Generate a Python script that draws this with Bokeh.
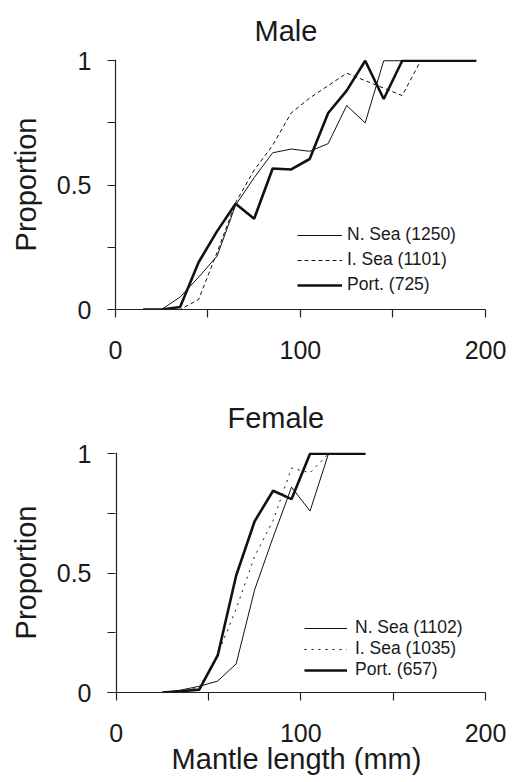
from bokeh.plotting import figure
from bokeh.layouts import column
from bokeh.models import FixedTicker, Legend, LegendItem
from bokeh.embed import file_html
from bokeh.resources import INLINE

# ---------------- data ----------------
male_len = [15, 25, 35, 45, 55, 65, 75, 85, 95, 105, 115, 125, 135, 145, 155, 165, 175, 185, 195]
male_nsea = [0, 0, 0.05, 0.13, 0.215, 0.42, 0.53, 0.63, 0.645, 0.636, 0.667, 0.82, 0.75, 1, 1, 1, 1, 1, 1]
male_isea = [0, 0, 0, 0.04, 0.23, 0.43, 0.56, 0.66, 0.79, 0.85, 0.90, 0.95, 0.92, 0.89, 0.86, 1, 1, 1, 1]
male_port = [0, 0, 0.01, 0.19, 0.315, 0.425, 0.365, 0.567, 0.563, 0.605, 0.79, 0.88, 1.0, 0.846, 1, 1, 1, 1, 1]
male_labels = ["N. Sea (1250)", "I. Sea (1101)", "Port. (725)"]

female_len = [15, 25, 35, 45, 55, 65, 75, 85, 95, 105, 115, 125, 135]
female_nsea = [float("nan"), 0, 0.01, 0.026, 0.048, 0.12, 0.43, 0.65, 0.86, 0.76, 1, 1, 1]
female_isea = [0, 0, 0.005, 0.02, 0.16, 0.35, 0.57, 0.72, 0.94, 0.92, 1, 1, 1]
female_port = [float("nan"), 0, 0.005, 0.012, 0.155, 0.49, 0.717, 0.845, 0.81, 1, 1, 1, 1]
female_labels = ["N. Sea (1102)", "I. Sea (1035)", "Port. (657)"]

x_major = [0, 100, 200]
x_minor = [50, 150]
x_tick_labels = ["0", "100", "200"]
y_major = [0, 0.5, 1]
y_minor = [0.25, 0.75]
y_tick_labels = ["0", "0.5", "1"]

FONT = "Liberation Sans"
TXT = "#1a1a1a"
LINE = "#111111"
AXIS = "#222222"


def make_panel(title, xs, series, labels, isea_dash, w, h, bl, br, bt, bb, x_start,
               title_offset, title_standoff, legend_loc, glyph_w, standoff, spacing,
               xlabel=None, xlabel_standoff=0):
    p = figure(width=w, height=h,
               x_range=(x_start, 200), y_range=(0, 1.005),
               min_border_left=bl, min_border_right=br, min_border_top=bt, min_border_bottom=bb,
               output_backend="svg", toolbar_location=None)
    p.outline_line_color = None
    p.ygrid.grid_line_color = None
    # vertical axis line at x = 0 (the y axis crosses the x axis at 0)
    p.xgrid.ticker = FixedTicker(ticks=[0])
    p.xgrid.grid_line_color = AXIS
    p.xgrid.grid_line_width = 1.2

    p.title.text = title
    p.title.align = "left"
    p.title.offset = title_offset
    p.title.standoff = title_standoff
    p.title.text_font = FONT
    p.title.text_font_size = "29px"
    p.title.text_font_style = "normal"
    p.title.text_color = TXT

    styles = [dict(line_width=1.0, line_dash="solid"),
              dict(line_width=1.0, line_dash=isea_dash),
              dict(line_width=2.6, line_dash="solid")]
    items = []
    for ys, lab, st in zip(series, labels, styles):
        r = p.line(xs, ys, line_color=LINE, **st)
        items.append(LegendItem(label=lab, renderers=[r]))

    leg = Legend(items=items, location=legend_loc)
    leg.background_fill_alpha = 0
    leg.border_line_color = None
    leg.padding = 0
    leg.margin = 0
    leg.spacing = spacing
    leg.glyph_width = glyph_w
    leg.glyph_height = 20
    leg.label_height = 20
    leg.label_standoff = standoff
    leg.label_text_font = FONT
    leg.label_text_font_size = "17.5px"
    leg.label_text_color = TXT
    p.add_layout(leg)

    p.xaxis.ticker = FixedTicker(ticks=x_major, minor_ticks=x_minor)
    p.xaxis.major_label_overrides = {v: s for v, s in zip(x_major, x_tick_labels)}
    p.yaxis.ticker = FixedTicker(ticks=y_major, minor_ticks=y_minor)
    p.yaxis.major_label_overrides = {v: s for v, s in zip(y_major, y_tick_labels)}
    p.yaxis.axis_label = "Proportion"
    if xlabel:
        p.xaxis.axis_label = xlabel
    for ax in (p.xaxis, p.yaxis):
        ax.axis_line_color = AXIS
        ax.axis_line_width = 1.2
        ax.major_tick_line_color = AXIS
        ax.minor_tick_line_color = AXIS
        ax.major_tick_line_width = 1.2
        ax.minor_tick_line_width = 1.2
        ax.major_label_text_font = FONT
        ax.major_label_text_font_size = "25px"
        ax.major_label_text_color = TXT
        ax.axis_label_text_font = FONT
        ax.axis_label_text_font_size = "29px"
        ax.axis_label_text_font_style = "normal"
        ax.axis_label_text_color = TXT
    # x axis: ticks hang below the line
    p.xaxis.major_tick_in = 0
    p.xaxis.major_tick_out = 8
    p.xaxis.minor_tick_in = 0
    p.xaxis.minor_tick_out = 8
    p.xaxis.major_label_standoff = 23
    p.xaxis.axis_label_standoff = xlabel_standoff
    # y axis sits at the frame edge; its ticks run from there to x = 0
    p.yaxis.axis_line_color = None
    p.yaxis.major_tick_in = 8
    p.yaxis.major_tick_out = 0
    p.yaxis.minor_tick_in = 8
    p.yaxis.minor_tick_out = 0
    p.yaxis.major_label_standoff = 16
    p.yaxis.axis_label_standoff = 12
    return p


p1 = make_panel("Male", male_len, [male_nsea, male_isea, male_port], male_labels, "4 3",
                517, 380, 107, 25, 58, 71, -4.24, 147, 25, (190, 14), 45, 5, 4)
p2 = make_panel("Female", female_len, [female_nsea, female_isea, female_port], female_labels, "2 5",
                517, 402, 104, 32, 72, 90, -4.67, 120, 38, (197, 12), 43, 8, 0,
                xlabel="Mantle length (mm)", xlabel_standoff=-2)

layout = column(p1, p2, spacing=0)
open("out.html", "w").write(file_html(layout, INLINE))
